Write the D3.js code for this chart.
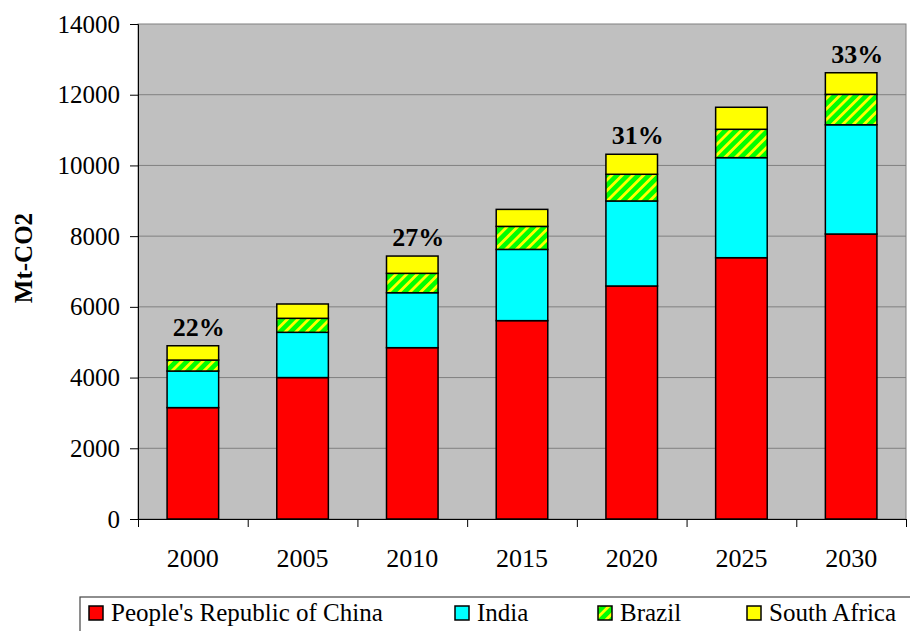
<!DOCTYPE html>
<html>
<head>
<meta charset="utf-8">
<script src="https://cdn.jsdelivr.net/npm/d3@7"></script>
<style>
  html, body { margin: 0; padding: 0; background: #ffffff; }
  svg { display: block; }
  text { font-family: "Liberation Serif", "Tinos", "Times New Roman", "DejaVu Serif", serif; fill: #000; }
</style>
</head>
<body>
<svg id="chart" width="910" height="631"></svg>
<script>
// ---- data ----
const years = ["2000", "2005", "2010", "2015", "2020", "2025", "2030"];
const seriesNames = ["People's Republic of China", "India", "Brazil", "South Africa"];
const china = [3150, 4000, 4845, 5610, 6590, 7390, 8060];
const india = [1035, 1280, 1555, 2015, 2405, 2830, 3090];
const brazil = [310, 396, 548, 651, 755, 802, 860];
const southAfrica = [405, 405, 489, 481, 566, 623, 611];
const yTicks = [0, 2000, 4000, 6000, 8000, 10000, 12000, 14000];
const pctYears = ["2000", "2010", "2020", "2030"];
const pctLabels = ["22%", "27%", "31%", "33%"];
const yTitle = "Mt-CO2";

const FONT = "'Liberation Serif', 'Tinos', 'Times New Roman', 'DejaVu Serif', serif";

// ---- build table ----
const keys = ["china", "india", "brazil", "southAfrica"];
const table = years.map((y, i) => ({
  year: y, china: china[i], india: india[i], brazil: brazil[i], southAfrica: southAfrica[i]
}));
const stacked = d3.stack().keys(keys)(table);

const svg = d3.select("#chart");
const defs = svg.append("defs");
const pat = defs.append("pattern")
  .attr("id", "hatch")
  .attr("patternUnits", "userSpaceOnUse")
  .attr("width", 7.5).attr("height", 7.5)
  .attr("patternTransform", "rotate(45)");
pat.append("rect").attr("width", 7.5).attr("height", 7.5).attr("fill", "#00ff00");
pat.append("rect").attr("width", 2.8).attr("height", 7.5).attr("fill", "#ffff00");

const fills = { china: "#ff0000", india: "#00ffff", brazil: "url(#hatch)", southAfrica: "#ffff00" };

const L = 138, R = 906, T = 24, B = 519;

const x = d3.scaleBand().domain(years).range([L, R]).paddingInner(0.53).paddingOuter(0.265);
const xb = d3.scaleBand().domain(years).range([L, R]).padding(0);
const y = d3.scaleLinear().domain([0, 14000]).range([B, T]);

// plot area
svg.append("rect")
  .attr("x", L).attr("y", T).attr("width", R - L).attr("height", B - T)
  .attr("fill", "#c0c0c0").attr("stroke", "#808080").attr("stroke-width", 1);

// gridlines
svg.append("g").selectAll("line")
  .data(yTicks.filter(v => v > 0 && v < 14000))
  .join("line")
  .attr("x1", L).attr("x2", R)
  .attr("y1", d => y(d)).attr("y2", d => y(d))
  .attr("stroke", "#808080").attr("stroke-width", 1);

// bars
svg.append("g").selectAll("g")
  .data(stacked)
  .join("g")
  .attr("fill", d => fills[d.key])
  .selectAll("rect")
  .data(d => d)
  .join("rect")
  .attr("x", d => x(d.data.year))
  .attr("width", x.bandwidth())
  .attr("y", d => y(d[1]))
  .attr("height", d => y(d[0]) - y(d[1]))
  .attr("stroke", "#000").attr("stroke-width", 1.5);

// y axis
const yAxis = svg.append("g")
  .attr("transform", `translate(${L},0)`)
  .call(d3.axisLeft(y).tickValues(yTicks).tickSize(8).tickPadding(10).tickFormat(d3.format("d")));
yAxis.attr("font-family", null);
yAxis.select(".domain").attr("stroke", "#000").attr("stroke-width", 1);
yAxis.selectAll(".tick line").attr("stroke", "#000");
yAxis.selectAll("text").style("font-size", "25px").style("font-family", FONT).attr("fill", "#000");

// x axis: tick marks at band boundaries
const xLin = d3.scaleLinear().domain([0, years.length]).range([L, R]);
const xTicks = svg.append("g")
  .attr("transform", `translate(0,${B})`)
  .call(d3.axisBottom(xLin).tickValues(d3.range(years.length + 1)).tickSize(8).tickSizeOuter(0).tickFormat(""));
xTicks.select(".domain").attr("stroke", "#000").attr("stroke-width", 1);
xTicks.selectAll(".tick line").attr("stroke", "#000");

const xLabels = svg.append("g")
  .attr("transform", `translate(0,${B})`)
  .call(d3.axisBottom(xb).tickSize(0).tickPadding(30));
xLabels.attr("font-family", null);
xLabels.select(".domain").remove();
xLabels.selectAll("text").style("font-size", "26px").style("font-family", FONT).attr("fill", "#000");

// y title
svg.append("text")
  .attr("transform", "translate(32,258) rotate(-90)")
  .attr("text-anchor", "middle")
  .style("font-size", "25px").style("font-weight", "bold").style("font-family", FONT)
  .text(yTitle);

// percentage labels
const totals = {};
years.forEach((yr, i) => { totals[yr] = china[i] + india[i] + brazil[i] + southAfrica[i]; });
svg.append("g").selectAll("text")
  .data(pctYears.map((yr, i) => ({ year: yr, label: pctLabels[i] })))
  .join("text")
  .attr("x", d => x(d.year) + x.bandwidth() / 2 + 6)
  .attr("y", d => y(totals[d.year]) - 10)
  .attr("text-anchor", "middle")
  .style("font-size", "26px").style("font-weight", "bold").style("font-family", FONT)
  .text(d => d.label);

// legend
const legend = svg.append("g");
legend.append("rect")
  .attr("x", 80).attr("y", 597).attr("width", 850).attr("height", 60)
  .attr("fill", "#fff").attr("stroke", "#444").attr("stroke-width", 1.2);
const legendX = [89, 455, 598, 747];
const items = legend.selectAll("g.item")
  .data(keys.map((k, i) => ({ key: k, name: seriesNames[i], lx: legendX[i] })))
  .join("g").attr("class", "item")
  .attr("transform", d => `translate(${d.lx},0)`);
items.append("rect")
  .attr("x", 0).attr("y", 606).attr("width", 14).attr("height", 14)
  .attr("fill", d => fills[d.key]).attr("stroke", "#000").attr("stroke-width", 1.5);
items.append("text")
  .attr("x", 22).attr("y", 621)
  .style("font-size", "25px").style("font-family", FONT)
  .text(d => d.name);
</script>
</body>
</html>
